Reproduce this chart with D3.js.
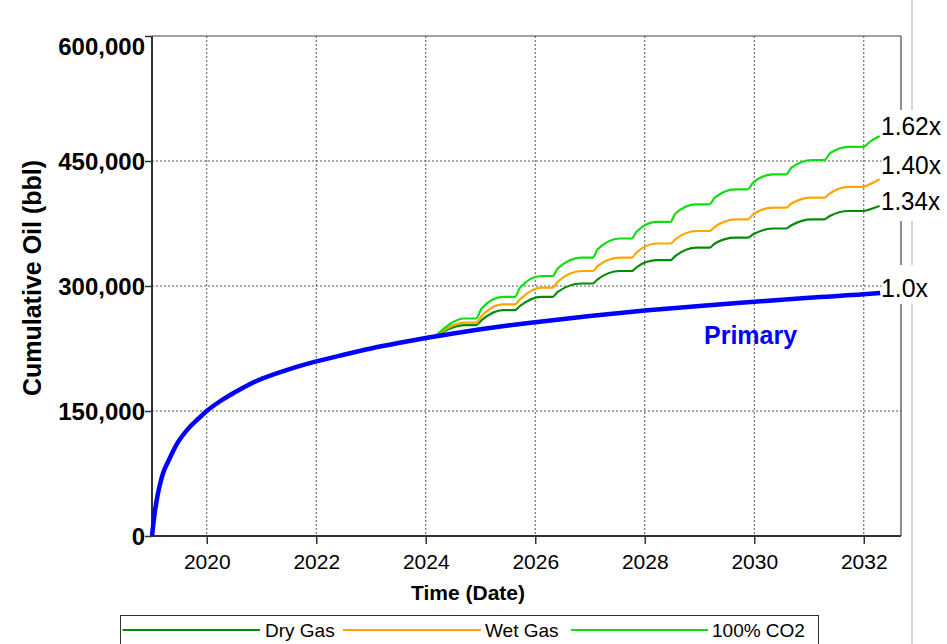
<!DOCTYPE html>
<html>
<head>
<meta charset="utf-8">
<script src="https://cdn.jsdelivr.net/npm/d3@7"></script>
<style>
  html, body { margin: 0; padding: 0; background: #fff; }
  svg { display: block; font-family: "Liberation Sans", Arial, Helvetica, sans-serif; }
</style>
</head>
<body>
<svg id="chart" width="947" height="644"></svg>
<script>
// ---- data ----
const xTicks = [2020, 2022, 2024, 2026, 2028, 2030, 2032];
const yTicks = [0, 150000, 300000, 450000, 600000];

const primaryYears = [2019.0, 2019.02, 2019.05, 2019.1, 2019.15, 2019.2, 2019.3, 2019.45, 2019.65, 2019.85,
  2020.0, 2020.25, 2020.5, 2020.75, 2021.0, 2021.5, 2022.0, 2022.5, 2023.0, 2023.5, 2024.0,
  2024.5, 2025.0, 2025.5, 2026.0, 2027.0, 2028.0, 2029.0, 2030.0, 2031.0, 2032.0, 2032.3];
const primaryOil = [0, 12000, 28000, 48000, 63000, 75000, 90000, 110000, 128000, 141000,
  150000, 162000, 172000, 181000, 188500, 200000, 209500, 217500, 225000, 231500, 237500,
  243000, 248000, 252500, 256500, 264000, 270500, 276000, 281000, 286000, 290000, 291500];

const eorYears = [2024.16, 2024.71, 2024.92, 2025.02, 2025.41, 2025.63, 2025.72, 2026.11, 2026.32,
  2026.41, 2026.84, 2027.05, 2027.14, 2027.54, 2027.76, 2027.86, 2028.22, 2028.47, 2028.56,
  2028.94, 2029.18, 2029.28, 2029.65, 2029.88, 2029.98, 2030.34, 2030.58, 2030.68, 2031.05,
  2031.28, 2031.38, 2031.72, 2031.99, 2032.11, 2032.29];
const dryGas = [239, 253, 253, 259, 271, 271, 276, 287, 287, 293, 303, 303, 308, 318, 318, 323,
  331, 331, 336, 346, 346, 351, 358, 358, 362, 369, 369, 373, 380, 380, 384, 390, 390, 392, 396];
const wetGas = [239, 256, 256, 264, 278, 278, 284, 298, 298, 305, 318, 318, 324, 334, 334, 341,
  351, 351, 356, 366, 366, 371, 380, 380, 386, 394, 394, 399, 406, 406, 411, 419, 419, 422, 428];
const co2 = [239, 261, 261, 273, 287, 287, 298, 312, 312, 321, 334, 334, 344, 357, 357, 366,
  377, 377, 387, 398, 398, 406, 416, 416, 424, 434, 434, 442, 451, 451, 459, 467, 467, 473, 480];

const seriesNames = ["Dry Gas", "Wet Gas", "100% CO2"];
const seriesColors = ["#078a07", "#ffa500", "#11dd11"];
const endLabels = ["1.34x", "1.40x", "1.62x"];
const primaryLabel = "1.0x";

// ---- layout ----
const svg = d3.select("#chart");
const W = 947, H = 644;
const L = 152, R = 901, T = 36, B = 536;

const x = d3.scaleLinear().domain([2019, 2032.68]).range([L, R]);
const y = d3.scaleLinear().domain([0, 600000]).range([B, T]);

svg.append("rect").attr("width", W).attr("height", H).attr("fill", "#fff");

// far right light vertical rule
svg.append("line").attr("x1", 912).attr("x2", 912).attr("y1", 0).attr("y2", H)
  .attr("stroke", "#c8c8c8").attr("stroke-width", 1.5);

// grid
const grid = svg.append("g");
grid.selectAll("line.v").data(xTicks).join("line")
  .attr("x1", d => x(d)).attr("x2", d => x(d)).attr("y1", T).attr("y2", B)
  .attr("stroke", "#555").attr("stroke-width", 1).attr("stroke-dasharray", "2,2");
grid.selectAll("line.h").data(yTicks.filter(d => d > 0 && d < 600000)).join("line")
  .attr("x1", L).attr("x2", R).attr("y1", d => y(d)).attr("y2", d => y(d))
  .attr("stroke", "#555").attr("stroke-width", 1).attr("stroke-dasharray", "2,2");

// frame (top & right)
svg.append("line").attr("x1", L).attr("x2", R).attr("y1", T).attr("y2", T)
  .attr("stroke", "#444").attr("stroke-width", 1.2);
svg.append("line").attr("x1", R).attr("x2", R).attr("y1", T).attr("y2", B)
  .attr("stroke", "#444").attr("stroke-width", 1.2);

// axes
const xAxis = svg.append("g").attr("transform", `translate(0,${B})`)
  .call(d3.axisBottom(x).tickValues(xTicks).tickFormat(d3.format("d")).tickSize(8).tickSizeOuter(0));
xAxis.select(".domain").attr("stroke", "#333").attr("stroke-width", 2).attr("d", `M${L},0H${R}`);
xAxis.selectAll(".tick line").attr("stroke", "#333").attr("stroke-width", 1.5);
xAxis.selectAll(".tick text").attr("font-size", 21).attr("fill", "#000").attr("dy", "1.05em")
  .attr("font-family", "Liberation Sans, Arial, sans-serif");

const yAxis = svg.append("g").attr("transform", `translate(${L},0)`)
  .call(d3.axisLeft(y).tickValues(yTicks).tickFormat(d3.format(",")).tickSize(7).tickSizeOuter(0));
yAxis.select(".domain").attr("stroke", "#333").attr("stroke-width", 2).attr("d", `M0,${T}V${B}`);
yAxis.selectAll(".tick line").attr("stroke", "#333").attr("stroke-width", 1.5);
yAxis.selectAll(".tick text").attr("font-size", 24).attr("font-weight", "bold").attr("fill", "#000")
  .attr("x", -7).attr("dy", d => d === 600000 ? "0.75em" : "0.36em")
  .attr("font-family", "Liberation Sans, Arial, sans-serif");

// axis titles
svg.append("text").attr("x", 468).attr("y", 600).attr("text-anchor", "middle")
  .attr("font-size", 21).attr("font-weight", "bold").text("Time (Date)");
svg.append("text").attr("transform", "translate(41,278) rotate(-90)").attr("text-anchor", "middle")
  .attr("font-size", 25).attr("font-weight", "bold").text("Cumulative Oil (bbl)");

// lines
const line = d3.line().x(d => x(d[0])).y(d => y(d[1])).curve(d3.curveMonotoneX);
const eorSeries = [dryGas, wetGas, co2];
eorSeries.forEach((vals, i) => {
  const pts = eorYears.map((t, j) => [t, vals[j] * 1000]);
  svg.append("path").datum(pts).attr("d", line).attr("fill", "none")
    .attr("stroke", seriesColors[i]).attr("stroke-width", 2.2).attr("stroke-linejoin", "round");
});
const primaryPts = primaryYears.map((t, j) => [t, primaryOil[j]]);
svg.append("path").datum(primaryPts).attr("d", line).attr("fill", "none")
  .attr("stroke", "#0000ff").attr("stroke-width", 4.5).attr("stroke-linecap", "butt");

svg.append("text").attr("x", 704).attr("y", 344).attr("font-size", 25).attr("font-weight", "bold")
  .attr("fill", "#0000ff").text("Primary");

// end labels with white backgrounds
const endItems = [
  { txt: endLabels[2], w: 60, base: 135 },
  { txt: endLabels[1], w: 60, base: 174 },
  { txt: endLabels[0], w: 59, base: 210 },
  { txt: primaryLabel, w: 47, base: 297 }
];
endItems.forEach((d, i) => {
  const top = i === 0 ? 110 : (i === 3 ? 265 : endItems[i - 1].base + 4);
  const bottom = i === 3 ? 304 : d.base + 11;
  svg.append("rect").attr("x", 881.5).attr("y", top).attr("width", 66).attr("height", bottom - top)
    .attr("fill", "#fff");
  svg.append("text").attr("x", 881).attr("y", d.base).attr("font-size", 26.5)
    .attr("textLength", d.w).attr("lengthAdjust", "spacingAndGlyphs")
    .attr("fill", "#000").text(d.txt);
});

// legend
const lg = svg.append("g");
lg.append("rect").attr("x", 120.5).attr("y", 615.5).attr("width", 698).attr("height", 40)
  .attr("fill", "#fff").attr("stroke", "#333").attr("stroke-width", 1);
const legendPos = [{ x1: 122.5, x2: 260, tx: 265 }, { x1: 343, x2: 481, tx: 485 }, { x1: 571, x2: 708, tx: 712 }];
seriesNames.forEach((name, i) => {
  const p = legendPos[i];
  lg.append("line").attr("x1", p.x1).attr("x2", p.x2).attr("y1", 630).attr("y2", 630)
    .attr("stroke", seriesColors[i]).attr("stroke-width", 2.2);
  lg.append("text").attr("x", p.tx).attr("y", 637).attr("font-size", 19).attr("fill", "#000").text(name);
});
</script>
</body>
</html>
